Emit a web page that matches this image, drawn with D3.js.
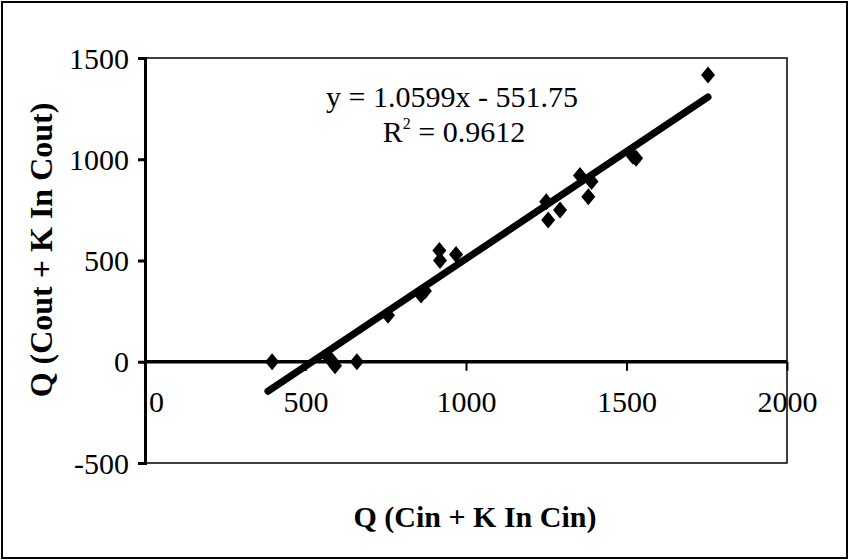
<!DOCTYPE html>
<html>
<head>
<meta charset="utf-8">
<script src="https://cdn.jsdelivr.net/npm/d3@7"></script>
<style>
  html, body { margin: 0; padding: 0; background: #fff; }
  svg { display: block; }
  text { font-family: "Liberation Serif", "Times New Roman", serif; fill: #000; }
</style>
</head>
<body>
<svg id="chart" width="849" height="560"></svg>
<script>
const xValues = [396, 570, 582, 592, 660, 757, 860, 872, 917, 919, 969, 1250, 1256, 1293, 1355, 1381, 1391, 1520, 1530, 1754];
const yValues = [0, 25, 5, -20, 0, 230, 330, 350, 550, 500, 530, 790, 700, 750, 920, 815, 890, 1015, 1005, 1416];
const xTicks = [0, 500, 1000, 1500, 2000];
const yTicks = [-500, 0, 500, 1000, 1500];
const slope = 1.0599, intercept = -551.75;
const eqText = "y = 1.0599x - 551.75";
const r2Value = "0.9612";
const xTitle = "Q (Cin + K In Cin)";
const yTitle = "Q (Cout + K In Cout)";

const svg = d3.select("#chart");
const pL = 145, pR = 787, pT = 58, pB = 463;
const x = d3.scaleLinear().domain([0, 2000]).range([pL, pR]);
const y = d3.scaleLinear().domain([-500, 1500]).range([pB, pT]);
const fmt = d => String(d);

// outer frame
svg.append("rect").attr("x", 2).attr("y", 2).attr("width", 845).attr("height", 556)
  .attr("fill", "none").attr("stroke", "#000").attr("stroke-width", 2);

// plot area border
svg.append("rect").attr("x", pL).attr("y", pT).attr("width", pR - pL).attr("height", pB - pT)
  .attr("fill", "none").attr("stroke", "#000").attr("stroke-width", 1.5);

// Y axis
const yAxis = d3.axisLeft(y).tickValues(yTicks).tickSize(7).tickPadding(9).tickFormat(fmt);
const gy = svg.append("g").attr("transform", `translate(${pL},0)`).call(yAxis);
gy.select(".domain").attr("stroke-width", 3);
gy.selectAll(".tick line").attr("stroke-width", 3);
gy.selectAll(".tick text").attr("font-size", 30).attr("font-family", "Liberation Serif").attr("dy", "0.34em");

// X axis on y=0
const xAxis = d3.axisBottom(x).tickValues(xTicks).tickSize(9).tickPadding(0).tickFormat(fmt);
const gx = svg.append("g").attr("transform", `translate(0,${y(0)})`).call(xAxis);
gx.select(".domain").attr("stroke-width", 3.5).attr("d", `M${pL},0H${pR}`);
gx.selectAll(".tick line").attr("stroke-width", 2).attr("y1", 0);
gx.selectAll(".tick").filter(d => d === 0).select("line").remove();
gx.selectAll(".tick text").attr("font-size", 30).attr("font-family", "Liberation Serif")
  .attr("y", 40).attr("dy", "0.34em")
  .attr("dx", d => d === 0 ? 11 : 0);

// trend line
const xmin = d3.min(xValues), xmax = d3.max(xValues);
svg.append("line")
  .attr("x1", x(xmin - 13)).attr("y1", y(slope * (xmin - 13) + intercept))
  .attr("x2", x(xmax)).attr("y2", y(slope * xmax + intercept))
  .attr("stroke", "#000").attr("stroke-width", 7).attr("stroke-linecap", "round");

// data markers (diamonds)
const pts = xValues.map((v, i) => [v, yValues[i]]);
svg.append("g").selectAll("path").data(pts).join("path")
  .attr("transform", d => `translate(${x(d[0])},${y(d[1])})`)
  .attr("d", "M0,-8.5L7,0L0,8.5L-7,0Z")
  .attr("fill", "#000");

// equation
svg.append("text").attr("x", 452).attr("y", 107).attr("text-anchor", "middle")
  .attr("font-size", 30).text(eqText);
const r2 = svg.append("text").attr("x", 454).attr("y", 142).attr("text-anchor", "middle").attr("font-size", 30);
r2.append("tspan").text("R");
r2.append("tspan").attr("font-size", 16).attr("dy", -13).text("2");
r2.append("tspan").attr("dy", 13).text(" = " + r2Value);

// axis titles
svg.append("text").attr("x", 475).attr("y", 527).attr("text-anchor", "middle")
  .attr("font-size", 30).attr("font-weight", "bold").text(xTitle);
svg.append("text").attr("transform", "translate(52,250) rotate(-90)").attr("text-anchor", "middle")
  .attr("font-size", 32).attr("font-weight", "bold").text(yTitle);
</script>
</body>
</html>
